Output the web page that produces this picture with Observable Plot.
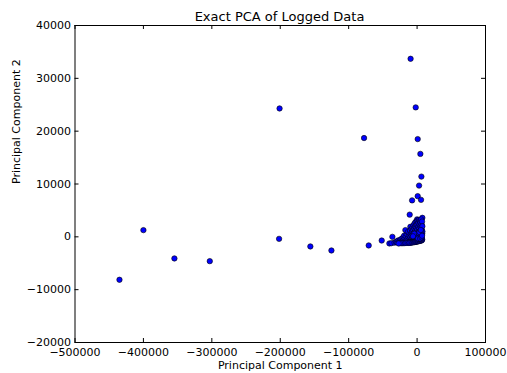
<!DOCTYPE html>
<html><head><meta charset="utf-8">
<script src="https://cdn.jsdelivr.net/npm/d3@7"></script>
<script src="https://cdn.jsdelivr.net/npm/@observablehq/plot@0.6"></script>
<style>
body{margin:0;background:#fff;font-family:"DejaVu Sans",sans-serif;}
#title{height:20px;box-sizing:border-box;padding-left:74px;padding-right:22px;text-align:center;font-size:13px;line-height:13px;position:relative;top:9.7px;z-index:1;color:#000;}
</style></head><body>
<div id="title">Exact PCA of Logged Data</div>
<div id="chart"></div>
<script>
const titleText = "Exact PCA of Logged Data";
const xLabel = "Principal Component 1";
const yLabel = "Principal Component 2";
const xTicks = [-500000, -400000, -300000, -200000, -100000, 0, 100000];
const yTicks = [-20000, -10000, 0, 10000, 20000, 30000, 40000];

// [PC1, PC2] scattered points
const outliers = [
  [-435000,-8130],[-400000,1270],[-354700,-4090],[-303000,-4600],[-201700,-380],
  [-201000,24300],[-156000,-1820],[-125200,-2580],[-77500,18700],[-70700,-1630],
  [-9500,33700],[-2000,24500],[900,18500],[4800,15700],[6300,11400],[2900,9700],
  [-7300,6900],[900,7700],[5800,7000],[-10800,4200],[0,3300],[7700,3600],
  [-9800,1900],[-17100,1270],[-36100,0],[-51700,-700],[-40500,-1250],[-37500,-1200],[-27800,-800]
];
// [PC1, PC2] dense cluster near the origin
const cluster = [
  [-33000,-1100],[-31000,-950],[-29500,-1000],[-28000,-700],[-26500,-900],[-25000,-600],[-24000,-1000],
  [-23000,-400],[-22000,-800],[-21000,-200],[-20500,-950],[-19500,-600],[-19000,200],[-18000,-300],
  [-17500,-900],[-16500,100],[-16000,-700],[-15000,500],[-14500,-400],[-14000,-1000],[-13500,900],
  [-13000,-100],[-12500,-600],[-12000,300],[-11500,-900],[-11000,700],[-10500,-300],[-10000,1200],
  [-9800,0],[-9500,-800],[-9000,500],[-8500,-500],[-8000,1500],[-8000,200],[-7500,-900],[-7200,900],
  [-7000,-200],[-6500,1800],[-6300,400],[-6000,-700],[-5800,1200],[-5500,-300],[-5200,2200],[-5000,700],
  [-4800,-900],[-4500,100],[-4200,1600],[-4000,-500],[-3800,2500],[-3500,900],[-3300,-200],[-3000,1900],
  [-2800,-800],[-2500,400],[-2300,2800],[-2000,1300],[-1800,-400],[-1500,2200],[-1300,600],[-1000,-700],
  [-800,1700],[-500,100],[-300,2900],[0,900],[200,-500],[400,2300],[600,1400],[800,-100],[1000,3100],
  [1200,600],[1500,1900],[1700,-600],[2000,2600],[2200,1000],[2500,-200],[2800,3200],[3000,1600],
  [3200,300],[3500,2300],[3800,-500],[4000,1100],[4200,3000],[4500,2000],[4700,0],[5000,2700],
  [5200,800],[5500,-400],[5700,1800],[6000,3300],[6200,500],[6500,2400],[6700,-200],[7000,1300],
  [7200,2900],[7500,600],[7500,-500],[7700,2000],[7800,1000],
  [7000,-650],[6000,-700],[5000,-700],[4000,-750],[3000,-800],[2000,-800],[1000,-850],[0,-900],
  [-1000,-900],[-2000,-950],[-3000,-950],[-4000,-1000],[-5000,-1000],[-6000,-1000],[-7000,-1050],
  [-8000,-1050],[-9000,-1100],[-10000,-1100],[-11000,-1100],[-12000,-1100],[-13000,-1150],
  [-15000,-1150],[-17000,-1150],[-19000,-1200],[-21000,-1200],[-23000,-1200],[-25000,-1200],[-27000,-1250],
  [-2000,0],[-1000,500],[1000,200],[2000,400],[3000,-300],[4000,400],[5000,100],[6000,1000],
  [-3000,300],[-4000,600],[-6000,100],[1500,-300],[2500,700],[3500,900],[4500,-300],[5500,1300],
  [6500,-100],[7300,200]
];

const points = outliers.concat(cluster).map(([x, y]) => ({x, y}));
const fmt = d3.format("d");

const W = 507, H = 353, mT = 5, mB = 31, mL = 74.5, mR = 22;
const fw = W - mL - mR, fh = H - mT - mB, tl = 4;

document.getElementById("title").textContent = titleText;

const chart = Plot.plot({
  width: W, height: H,
  marginTop: mT, marginBottom: mB, marginLeft: mL, marginRight: mR,
  style: {fontFamily: "DejaVu Sans", fontSize: "11px", overflow: "visible", background: "transparent", color: "black"},
  x: {domain: [-500000, 100000]},
  y: {domain: [-20000, 40000]},
  marks: [
    Plot.dot(points, {x: "x", y: "y", r: 2.7, fill: "#0000ff", stroke: "black", strokeWidth: 0.6}),
    Plot.tickX(xTicks, {x: d => d, insetTop: fh - tl, stroke: "black"}),
    Plot.tickX(xTicks, {x: d => d, insetBottom: fh - tl, stroke: "black"}),
    Plot.tickY(yTicks, {y: d => d, insetRight: fw - tl, stroke: "black"}),
    Plot.tickY(yTicks, {y: d => d, insetLeft: fw - tl, stroke: "black"}),
    Plot.axisX(xTicks, {anchor: "bottom", tickSize: 0, tickPadding: 6, tickFormat: fmt, label: null, fill: "black"}),
    Plot.axisY(yTicks, {anchor: "left", tickSize: 0, tickPadding: 4, tickFormat: fmt, label: null, fill: "black"}),
    Plot.frame({stroke: "black", strokeWidth: 1}),
    Plot.text([xLabel], {text: d => d, frameAnchor: "bottom", dy: 26, fill: "black"}),
    Plot.text([yLabel], {text: d => d, frameAnchor: "left", dx: -59, rotate: -90, fill: "black"})
  ]
});
document.getElementById("chart").appendChild(chart);
</script></body></html>
